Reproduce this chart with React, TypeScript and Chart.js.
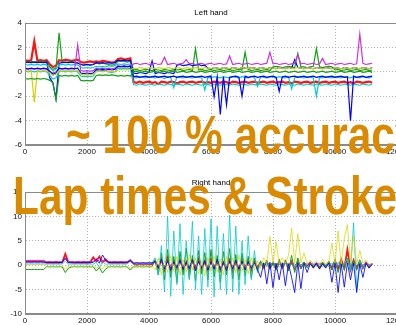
import React, { useEffect, useRef } from "react";
import { Chart, registerables } from "chart.js";

Chart.register(...registerables);

// ---------- data (sampled every SAMPLE_STEP along x) ----------
const SAMPLE_STEP = 100;
const xTickValues = [0, 2000, 4000, 6000, 8000, 10000, 12000];
const leftTicksY = [-6, -4, -2, 0, 2, 4];
const rightTicksY = [-10, -5, 0, 5, 10, 15];
const titles = ["Left hand", "Right hand"];
const overlayLines = ["~ 100 % accuracy", "Lap times & Strokes"];

// Left hand
const leftRed = [
  0.95, 0.9, 0.95, 2.5, 0.9, 0.95, 0.9, 0.95, 0.6, 0.4,
  0.5, 0.95, 0.9, 1, 0.95, 0.9, 0.95, 1, 0.8, 0.75,
  0.8, 0.85, 0.8, 0.85, 0.8, 0.9, 0.85, 0.8, 0.75, 0.8,
  1.05, 1.1, 1, 1.05, 1.1, -0.85, -0.9, -0.8, -0.9, -0.85,
  -0.8, -0.9, -0.85, -1, -0.8, -0.85, -0.9, -0.8, -0.85, -0.95,
  -0.85, -0.8, -0.9, -0.85, -0.8, -0.9, -0.85, -0.8, -0.9, -0.85,
  -0.9, -0.8, -0.85, -0.9, -0.8, -0.85, -0.95, -0.8, -0.85, -0.9,
  -0.85, -0.8, -0.9, -0.85, -0.8, -0.9, -0.85, -0.8, -0.9, -0.85,
  -0.8, -0.9, -0.85, -0.8, -0.9, -0.85, -0.95, -0.8, -0.85, -0.9,
  -0.85, -0.8, -0.9, -0.85, -0.8, -0.9, -0.85, -0.8, -0.9, -0.85,
  -0.8, -0.9, -0.85, -0.8, -0.9, -0.85, -0.95, -0.8, -0.85, -0.9,
  -0.85, -0.8, -0.9,
];
const leftGreenHigh = [
  0.85, 0.8, 0.85, 0.8, 0.85, 0.8, 0.85, 0.8, 0.4, 0.2,
  0.3, 3.2, 0.8, 0.75, 0.8, 0.85, 0.8, 0.75, 0.6, 0.55,
  0.6, 0.55, 0.6, 0.7, 0.65, 0.7, 0.65, 0.6, 0.55, 0.6,
  0.85, 0.9, 0.85, 0.8, 0.9, 0.15, 0.2, 0.1, 0.15, 0.2,
  0.15, 0.1, 0.2, 0.15, 0.1, 0.2, 0.15, 0.1, 0.2, 0.15,
  0.2, 0.1, 0.15, 0.2, 0.1, 1.9, 0.15, 0.2, 0.1, 0.15,
  0.2, 0.1, 0.15, 0.2, 0.1, 0.15, 0.2, 0.1, 0.15, 0.2,
  0.15, 1.6, 0.2, 0.1, 0.15, 0.2, 0.1, 0.15, 0.2, 0.1,
  0.4, 0.45, 0.4, 0.35, 0.4, 0.45, 0.4, 0.35, 1.5, 0.4,
  0.4, 0.35, 0.4, 0.45, 1.9, 0.4, 0.35, 0.4, 0.45, 0.4,
  0.15, 0.2, 0.1, 0.15, 0.2, 0.1, 0.15, 0.2, 0.1, 0.15,
  0.2, 0.1, 0.15,
];
const leftCyanHigh = [
  0.6, 0.55, 0.6, 0.55, 0.6, 0.55, 0.6, 0.55, 0.3, 0.1,
  0.2, 0.55, 0.6, 0.55, 0.6, 0.55, 0.6, 0.55, 0.35, 0.3,
  0.35, 0.3, 0.35, 0.45, 0.4, 0.45, 0.4, 0.5, 0.45, 0.5,
  0.65, 0.6, 0.65, 0.6, 0.65, -0.45, -0.5, -0.4, -0.45, -0.5,
  -0.4, -0.45, -0.5, -0.4, -0.45, -0.55, -0.4, -0.45, -1.3, -0.4,
  -0.45, -0.5, -0.4, -0.45, -0.5, -0.4, -0.45, -0.5, -1.5, -0.45,
  -0.5, -0.4, -0.45, -0.5, -0.4, -0.45, -0.5, -0.4, -0.45, -0.5,
  -0.4, -0.45, -0.5, -0.4, -0.45, -1.2, -0.4, -0.45, -0.5, -0.4,
  -0.45, -0.5, -0.4, -0.45, -0.5, -0.4, -1.4, -0.5, -0.4, -0.45,
  -0.5, -0.4, -0.45, -0.5, -2, -0.45, -0.5, -0.4, -0.45, -0.5,
  -0.4, -0.45, -0.5, -0.4, -0.45, -0.5, -0.4, -0.45, -0.5, -0.4,
  -0.45, -0.5, -0.4,
];
const leftCyanLow = [
  0.05, 0, 0.05, 0, 0.05, 0, 0.05, 0, -0.3, -0.6,
  -0.5, 0, 0.05, 0, 0.05, 0, 0.05, 0, -0.35, -0.4,
  -0.35, -0.4, -0.35, 0.1, 0.05, 0.1, 0.05, 0, -0.05, 0,
  0.3, 0.25, 0.3, 0.25, 0.3, -1.05, -1.1, -1, -1.05, -1.1,
  -1, -1.05, -1.1, -1, -1.05, -1.1, -1, -1.05, -1.1, -1,
  -1.05, -1.1, -1, -1.05, -1.1, -1, -1.05, -1.1, -1, -1.05,
  -1.1, -1, -1.05, -1.1, -1, -1.05, -1.1, -1, -1.05, -1.1,
  -1, -1.05, -1.1, -1, -1.05, -1.1, -1, -1.05, -1.1, -1,
  -1.05, -1.1, -1, -1.05, -1.1, -1, -1.05, -1.1, -1, -1.05,
  -1.1, -1, -1.05, -1.1, -1, -1.05, -1.1, -1, -1.05, -1.1,
  -1, -1.05, -1.1, -1, -1.05, -1.1, -1, -1.05, -1.1, -1,
  -1.05, -1.1, -1,
];
const leftBlueHigh = [
  0.75, 0.8, 0.75, 0.8, 0.75, 0.8, 0.75, 0.8, -0.5, -0.9,
  -2.2, 0.7, 0.75, 0.8, 0.75, 0.8, 0.75, 0.7, 0.6, 0.55,
  0.6, 0.55, 0.6, 0.75, 0.7, 0.75, 0.7, 0.75, 0.7, 0.75,
  0.95, 0.9, 0.95, 0.9, 0.95, -0.1, -0.15, -0.05, -0.1, -0.15,
  -0.05, 0.9, -0.15, -0.05, -0.1, -0.15, -0.05, -0.1, -0.15, 0.55,
  0.6, 0.5, 0.55, 0.6, 0.5, 0.55, 0.6, 0.5, 0.55, 0.3,
  0.25, 0.35, 0.3, 0.25, 0.35, 0.3, 0.25, 0.35, 0.3, 0.25,
  0.35, 0.3, 0.25, 0.35, 0.3, 0.25, 0.35, 0.3, 0.25, 0.35,
  0.3, 0.25, 0.35, 0.3, 0.25, 0.35, 0.3, 1, 0.35, 0.3,
  0.25, 0.35, 0.3, 0.25, 0.35, 0.3, 0.25, 0.35, 0.3, 0.25,
  0.35, 0.3, 0.25, 0.35, 0.3, 0.25, 0.35, 0.3, 0.25, 0.35,
  0.3, 0.25, 0.35,
];
const leftBlueLow = [
  0.3, 0.25, 0.3, 0.25, 0.3, 0.25, 0.3, 0.25, 0.05, -0.2,
  -0.1, 0.3, 0.25, 0.3, 0.25, 0.3, 0.25, 0.3, -0.1, -0.15,
  -0.1, -0.15, -0.1, 0.2, 0.15, 0.2, 0.15, 0.2, 0.15, 0.2,
  0.45, 0.4, 0.45, 0.4, 0.45, -0.4, -0.35, -0.45, -0.4, -0.35,
  -0.45, -0.4, -0.35, -0.45, -0.4, -0.35, -0.45, -0.4, -0.35, -0.45,
  -0.4, -0.35, -0.45, -0.4, -0.35, -0.45, -0.4, -0.35, -0.45, -0.4,
  -0.35, -2.05, -0.4, -3.5, -0.4, -2.7, -0.45, -0.4, -0.35, -0.45,
  -2, -0.35, -0.45, -0.4, -0.35, -0.45, -0.4, -0.35, -0.45, -0.4,
  -0.35, -0.45, -1.6, -0.4, -0.35, -0.45, -0.4, -0.35, -0.45, -0.4,
  -0.35, -0.45, -0.4, -0.35, -0.45, -0.4, -0.35, -0.45, -0.4, -0.35,
  -0.45, -0.4, -0.35, -0.45, -0.4, -4, -0.35, -0.45, -0.4, -0.35,
  -0.45, -0.4, -0.35,
];
const leftMagenta = [
  0.25, 0.2, 0.25, 0.2, 0.25, 0.2, 0.25, 0.2, 0, -0.1,
  0, 0.25, 0.2, 0.25, 0.2, 0.25, 0.2, 2.2, 0.1, 0.05,
  0.1, 0.05, 0.1, 0.3, 0.25, 0.3, 0.25, 0.3, 0.25, 0.3,
  0.5, 0.45, 0.5, 0.45, 0.5, 0.65, 0.7, 0.6, 0.65, 0.7,
  0.6, 0.65, 0.7, 0.6, 0.65, 1.2, 0.6, 0.65, 0.7, 0.6,
  0.65, 0.7, 1, 0.65, 0.7, 0.6, 0.65, 0.7, 0.6, 0.65,
  0.7, 0.6, 0.65, 0.7, 0.6, 0.65, 1.3, 0.6, 0.65, 0.7,
  0.6, 0.65, 0.7, 0.6, 0.65, 0.7, 0.6, 0.65, 0.7, 1.6,
  0.65, 0.7, 0.6, 0.65, 0.7, 0.6, 0.65, 0.7, 1.4, 0.65,
  0.7, 0.6, 0.65, 0.7, 0.6, 0.65, 1.1, 0.6, 0.65, 0.7,
  0.6, 0.65, 0.7, 0.6, 0.65, 0.7, 0.6, 0.65, 3.1, 0.7,
  0.6, 0.65, 0.7,
];
const leftYellow = [
  0.1, 0.05, 0.1, -2.5, 0.1, 0.05, 0.1, 0.05, -0.1, -0.3,
  -0.2, 0.1, 0.05, 0.1, 0.05, 0.1, 0.05, 0.1, -0.2, -0.25,
  -0.2, -0.25, -0.2, 0, 0.05, 0, 0.05, 0, 0.05, 0,
  0.15, 0.2, 0.15, 0.2, 0.15, 0.3, 0.25, 0.35, 0.3, 0.25,
  0.35, 0.3, 0.25, 0.35, 0.3, 0.25, 0.35, 0.3, 0.25, 0.35,
  0.3, 0.25, 0.35, 0.3, 0.25, 0.35, 0.3, 0.25, 0.35, 0.3,
  0.25, 0.35, 0.3, 0.25, 0.35, 0.3, 0.25, 0.35, 0.3, 0.25,
  0.35, 0.3, 0.25, 0.35, 0.3, 0.25, 0.35, 0.3, 0.25, 0.35,
  0.3, 0.25, 0.35, 0.3, 0.25, 0.35, 0.3, 0.25, 0.35, 0.3,
  0.25, 0.35, 0.3, 0.25, 0.35, 0.3, 0.25, 0.35, 0.3, 0.25,
  0.35, 0.3, 0.25, 0.35, 0.3, 0.25, 0.35, 0.3, 0.25, 0.35,
  0.3, 0.25, 0.35,
];
const leftGreenLow = [
  -0.55, -0.6, -0.55, -0.6, -0.55, -0.6, -0.55, -0.6, -0.7, -0.9,
  -2.3, -0.3, -0.35, -0.3, -0.35, -0.3, -0.35, -0.3, -0.7, -0.75,
  -0.7, -0.75, -0.7, -0.3, -0.25, -0.3, -0.25, -0.3, -0.25, -0.3,
  -0.35, -0.3, -0.35, -0.3, -0.35, 0, 0.05, -0.05, 0, 0.05,
  -0.05, 0, 0.05, -0.05, 0, 0.05, -0.05, 0, 0.05, -0.05,
  0, 0.05, -0.05, 0, 0.05, -0.05, 0, 0.05, -0.05, 0,
  0.05, -0.05, 0, 0.05, -0.05, 0, 0.05, -0.05, 0, 0.05,
  -0.05, 0, 0.05, -0.05, 0, 0.05, -0.05, 0, 0.05, -0.05,
  0, 0.05, -0.05, 0, 0.05, -0.05, 0, 0.05, -0.05, 0,
  0.05, -0.05, 0, 0.05, -0.05, 0, 0.05, -0.05, 0, 0.05,
  -0.05, 0, 0.05, -0.05, 0, 0.05, -0.05, 0, 0.05, -0.05,
  0, 0.05, -0.05,
];

// Right hand
const rightCyan = [
  0.3, 0.25, 0.3, 0.25, 0.3, 0.25, 0.3, 0.2, 0.25, 0.2,
  0.25, 0.2, 0.25, 0.8, 0.2, 0.25, 0.2, 0.25, 0.2, 0.25,
  0.2, 0.25, 0.2, 0.6, -0.5, 0.7, 0.2, 0.25, 0.2, 0.25,
  0.2, 0.25, 0.2, 0.25, 0.9, 0.2, 0.25, 0.2, 0.25, 0.2,
  0.25, 0.5, 1.5, -2, 4, -5.5, 10, -6.4, 7, -4,
  8.5, -6, 5, -3, 9, -5, 6, -6, 7.5, -4.5,
  9.5, -6.5, 8, -5, 6.5, -6, 10.3, -5.5, 8, -6,
  5, -4, 6, -3, 3, -1.5, 0.5, 0.2, -0.3, 0.4,
  -0.2, 0.3, -0.4, 0.2, 0.5, -0.3, 0.2, -0.5, 0.6, -0.2,
  0.3, -0.4, 0.2, 0.3, -0.2, 0.4, -0.3, 0.2, -0.2, 0.5,
  -0.4, 0.6, -0.5, 0.3, 1.5, -1, 8.7, -5, 1, -0.5,
  0.3, -0.2, 0.2,
];
const rightBlue = [
  0.6, 0.65, 0.6, 0.65, 0.6, 0.65, 0.6, 0.55, 0.6, 0.55,
  0.6, 0.55, 0.6, 1.5, 0.5, 0.6, 0.55, 0.6, 0.55, 0.6,
  0.55, 0.6, 0.55, 1.2, 0.4, 2.1, 1, 0.6, 0.55, 0.6,
  0.55, 0.6, 0.55, 0.6, 0.9, 0.4, 0.5, 0.45, 0.5, 0.45,
  0.5, 0.45, 0.8, -0.6, 1.2, -0.8, 0.9, -1, 0.7, -0.5,
  1, -0.9, 0.6, -0.7, 1.1, -1.2, 0.8, -0.6, 0.9, -1,
  0.7, -0.8, 1.2, -0.9, 0.6, -1.1, 0.9, -0.7, 1, -0.8,
  0.8, -1, 0.7, -0.6, 0.5, -0.9, -2.5, 0.5, -3.8, 0.6,
  -4.6, 0.4, -3, 0.5, -4.2, 0.3, -2.5, -5.6, 0.5, -4.8,
  0.4, -1.5, 0.3, -0.5, 0.4, -0.8, 0.3, -0.6, 0.5, -3.5,
  0.4, -5.6, 0.3, -4.5, 0.5, -3, 0.4, -5.6, 0.3, -2.5,
  0.4, -0.6, 0.3,
];
const rightYellow = [
  0.1, 0.15, 0.1, 0.15, 0.1, 0.15, 0.1, -0.2, -0.25, -0.2,
  -0.25, -0.2, -0.25, -0.8, -0.2, -0.25, -0.2, -0.25, -0.2, -0.25,
  -0.2, -0.25, -0.2, -0.6, -0.3, -0.7, -0.2, -0.25, -0.2, -0.25,
  -0.2, -0.25, -0.2, -0.25, -0.6, -0.2, -0.25, -0.2, -0.25, -0.2,
  -0.25, -0.2, -1, 1.5, -2, 1, -1.5, 2, -1.2, 1.8,
  -2, 1.2, -1.5, 2.2, -1, 1.5, -1.8, 1, -2.2, 1.6,
  -1.2, 2, -1.5, 1.3, -2, 1.8, -1, 1.5, -1.6, 2.1,
  -1.3, 1.2, -1.8, 1.6, -1, 0.8, -0.5, 1.5, 0.3, 5.9,
  0.5, 4.8, 0.2, 1.5, 0.4, 2, 7.6, 0.3, 6.5, 0.5,
  2.5, 0.3, 1, 0.4, 0.8, 0.3, 1.2, 0.2, 0.6, 4.5,
  0.4, 7, 0.3, 5.5, 8.3, 0.5, 6, 0.2, 3, 0.4,
  1, 0.2, 0.3,
];
const rightGreen = [
  -0.9, -0.85, -0.9, -0.85, -0.9, -0.85, -0.9, -0.3, -0.35, -0.3,
  -0.35, -0.3, -0.35, -1.5, -0.6, -0.35, -0.3, -0.35, -0.3, -0.35,
  -0.3, -0.35, -0.3, -1.2, -0.5, -1.6, -0.8, -0.35, -0.3, -0.35,
  -0.3, -0.35, -0.3, -0.35, -1, -0.3, -0.35, -0.3, -0.35, -0.3,
  -0.35, -0.3, 1.2, -2, 2.5, -3, 3.2, -2.5, 1.8, -3.5,
  2.8, -2, 3.5, -2.8, 2, -3.2, 3, -1.8, 2.6, -3,
  3.2, -2.4, 2, -3.5, 2.8, -2, 3.4, -2.8, 2.2, -3,
  2.5, -2.2, 1.8, -2.6, 1.5, -1.2, 0.8, -0.5, 1, -0.8,
  0.6, -1, 1.2, -0.6, 0.9, -1.2, 2, -1.5, 1.5, -0.8,
  0.7, -0.5, 0.5, -0.6, 0.4, -0.5, 0.6, -0.4, 0.8, -1,
  1.2, -1.5, 0.9, -1, 1.5, -1.2, 0.8, -0.9, 1, -0.6,
  0.4, -0.5, 0.3,
];
const rightMagenta = [
  1, 0.95, 1, 0.95, 1, 0.95, 1, 0.7, 0.75, 0.7,
  0.75, 0.7, 0.75, 1.2, 0.7, 0.75, 0.7, 0.75, 0.7, 0.75,
  0.7, 0.75, 0.7, 1.4, 0.8, 1, 0.7, 0.75, 0.7, 0.75,
  0.7, 0.75, 0.7, 0.75, 1.1, 0.4, 0.45, 0.4, 0.45, 0.4,
  0.45, 0.4, 0.8, -0.2, 0.9, -0.3, 0.6, 0, 0.8, -0.4,
  0.7, -0.1, 0.6, -0.3, 0.9, 0, 0.5, -0.2, 0.8, -0.3,
  0.6, -0.1, 0.7, -0.4, 0.5, 0, 0.8, -0.2, 0.6, -0.3,
  0.7, -0.1, 0.5, -0.2, 0.6, 0, 0.4, 0.1, 0.5, 0,
  0.6, 0.1, 0.5, -0.1, 0.4, 0.2, 0.6, 0, 0.5, 0.1,
  0.4, 0.2, 0.5, 0.1, 0.4, 0.2, 0.5, 0, 0.6, -0.1,
  0.7, -0.2, 0.6, 0, 0.8, -0.3, 0.6, -0.1, 0.5, 0,
  0.4, 0.1, 0.3,
];
const rightRed = [
  0.8, 0.85, 0.8, 0.85, 0.8, 0.85, 0.8, 0.5, 0.55, 0.5,
  0.55, 0.5, 0.55, 2.3, 0.6, 0.55, 0.5, 0.55, 0.5, 0.55,
  0.5, 0.55, 1.6, 0.8, 1.8, 0.6, 1.2, 0.55, 0.5, 0.55,
  0.5, 0.55, 0.5, 0.55, 1, 0.3, 0.1, 0.2, 0.1, 0.2,
  0.1, 0.2, 0.8, -0.6, 1.2, -0.9, 1.5, -1, 0.9, -0.7,
  1.1, -0.8, 0.7, -1.2, 1, -0.6, 1.3, -0.9, 0.8, -1,
  1.2, -0.7, 0.9, -1.1, 0.6, -0.8, 1, -1.2, 0.7, -0.9,
  1.1, -0.6, 0.8, -1, 0.9, -0.7, 0.6, -0.5, 0.7, -0.6,
  0.5, -0.7, 0.6, -0.5, 0.8, -0.6, 0.7, -0.8, 0.6, -0.5,
  0.4, -0.3, 0.5, -0.4, 0.3, -0.5, 0.4, -0.3, 0.6, -0.7,
  0.9, -0.8, 1.2, -0.6, 3.2, -0.9, 1, -0.7, 0.8, -0.6,
  0.5, -0.4, 0.3,
];

// ---------- styling ----------
const FONT = '"Liberation Sans", Arial, Helvetica, sans-serif';
const COLORS = {
  red: "#ff1414",
  green: "#14a014",
  blue: "#0000ff",
  cyan: "#00cccc",
  magenta: "#cc33dd",
  yellow: "#d2d200",
};
const ORANGE = "#d98a00";

// [values, colour, line width]
const leftSeries: [number[], string, number][] = [
  [leftGreenLow, COLORS.green, 1.2],
  [leftYellow, COLORS.yellow, 1.2],
  [leftBlueLow, COLORS.blue, 1.2],
  [leftCyanLow, COLORS.cyan, 1.2],
  [leftMagenta, COLORS.magenta, 1.2],
  [leftCyanHigh, COLORS.cyan, 1.2],
  [leftBlueHigh, COLORS.blue, 1.2],
  [leftGreenHigh, COLORS.green, 1.2],
  [leftRed, COLORS.red, 2.2],
];
const rightSeries: [number[], string, number][] = [
  [rightYellow, "rgba(215,215,0,0.75)", 1],
  [rightBlue, "rgba(0,0,255,0.85)", 1],
  [rightCyan, "rgba(0,205,205,0.8)", 1],
  [rightGreen, COLORS.green, 1],
  [rightMagenta, COLORS.magenta, 1],
  [rightRed, COLORS.red, 1.8],
];

const CANVAS_W = 430;

const framePlugin = {
  id: "frameAndTitle",
  afterDraw(chart: any, _args: any, opts: any) {
    const { ctx, chartArea: a } = chart;
    ctx.save();
    ctx.strokeStyle = "#8a8a8a";
    ctx.lineWidth = 1;
    ctx.strokeRect(Math.round(a.left) + 0.5, Math.round(a.top) + 0.5, Math.round(a.right - a.left) - 1, Math.round(a.bottom - a.top) - 1);
    ctx.fillStyle = "#000";
    ctx.font = `8px ${FONT}`;
    ctx.textAlign = "center";
    ctx.textBaseline = "middle";
    ctx.fillText(opts.text, (a.left + a.right) / 2, opts.y);
    ctx.restore();
  },
};

function buildConfig(
  series: [number[], string, number][],
  yTicks: number[],
  title: string,
  titleY: number,
  padTop: number,
  xAxisH: number
): any {
  return {
    type: "line",
    data: {
      datasets: series.map(([vals, color, width]) => ({
        data: vals.map((y, i) => ({ x: i * SAMPLE_STEP, y })),
        borderColor: color,
        borderWidth: width,
        pointRadius: 0,
        tension: 0,
        fill: false,
      })),
    },
    options: {
      animation: false,
      responsive: false,
      devicePixelRatio: 1,
      events: [],
      layout: { padding: { top: padTop, right: CANVAS_W - 397, left: 0, bottom: 0 } },
      plugins: {
        legend: { display: false },
        tooltip: { enabled: false },
        frameAndTitle: { text: title, y: titleY },
      },
      scales: {
        x: {
          type: "linear",
          min: xTickValues[0],
          max: xTickValues[xTickValues.length - 1],
          afterBuildTicks: (s: any) => {
            s.ticks = xTickValues.map((v) => ({ value: v }));
          },
          afterFit: (s: any) => {
            s.height = xAxisH;
          },
          ticks: {
            autoSkip: false,
            maxRotation: 0,
            padding: 2,
            color: "#111",
            font: { family: FONT, size: 8 },
            callback: (v: any) => String(v),
          },
          grid: { color: "#b4b4b4", drawTicks: false, lineWidth: 1 },
          border: { display: true, color: "#8a8a8a", dash: [1, 2] },
        },
        y: {
          type: "linear",
          min: yTicks[0],
          max: yTicks[yTicks.length - 1],
          afterBuildTicks: (s: any) => {
            s.ticks = yTicks.map((v) => ({ value: v }));
          },
          afterFit: (s: any) => {
            s.width = 25;
          },
          ticks: {
            autoSkip: false,
            padding: 3,
            color: "#111",
            font: { family: FONT, size: 8 },
            callback: (v: any) => String(v),
          },
          grid: { color: "#b4b4b4", drawTicks: false, lineWidth: 1 },
          border: { display: true, color: "#8a8a8a", dash: [1, 2] },
        },
      },
    },
    plugins: [framePlugin],
  };
}

export default function App() {
  const topRef = useRef<HTMLCanvasElement>(null);
  const botRef = useRef<HTMLCanvasElement>(null);

  useEffect(() => {
    const c1 = new Chart(topRef.current!, buildConfig(leftSeries, leftTicksY, titles[0], 13, 23, 15));
    const c2 = new Chart(botRef.current!, buildConfig(rightSeries, rightTicksY, titles[1], 23, 32, 11));
    return () => {
      c1.destroy();
      c2.destroy();
    };
  }, []);

  const overlayStyle: React.CSSProperties = {
    position: "absolute",
    fontFamily: FONT,
    fontWeight: "bold",
    fontSize: 53,
    lineHeight: "53px",
    color: ORANGE,
    whiteSpace: "nowrap",
    transform: "scaleX(0.8)",
    transformOrigin: "0 0",
  };

  return (
    <div
      style={{
        position: "absolute",
        left: 0,
        top: 0,
        width: 396,
        height: 325,
        overflow: "hidden",
        background: "#fff",
      }}
    >
      <canvas
        ref={topRef}
        width={CANVAS_W}
        height={160}
        style={{ position: "absolute", left: 0, top: 0, width: CANVAS_W, height: 160 }}
      />
      <canvas
        ref={botRef}
        width={CANVAS_W}
        height={165}
        style={{ position: "absolute", left: 0, top: 160, width: CANVAS_W, height: 165 }}
      />
      <div style={{ ...overlayStyle, left: 66, top: 108 }}>{overlayLines[0]}</div>
      <div style={{ ...overlayStyle, left: 13, top: 169 }}>{overlayLines[1]}</div>
    </div>
  );
}
